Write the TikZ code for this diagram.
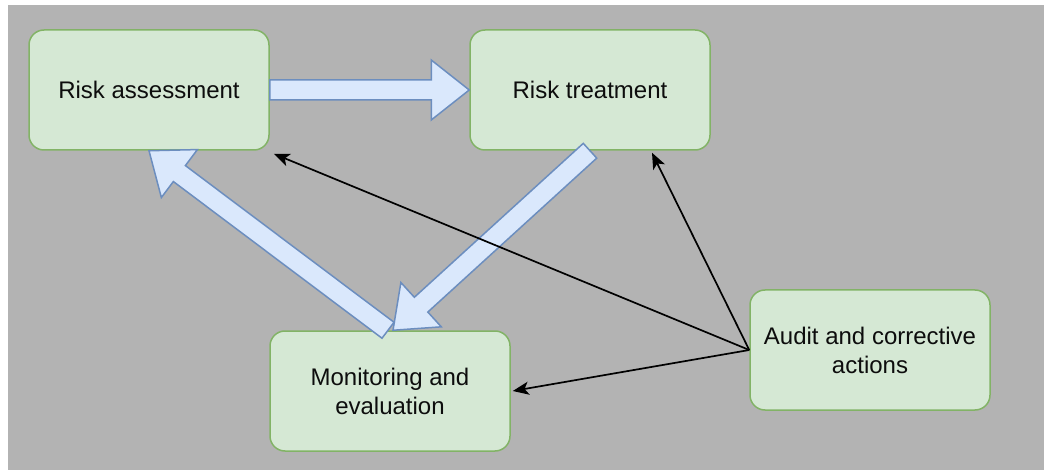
\documentclass[tikz,border=0pt]{standalone}
\usepackage{fontspec}
\setmainfont{Liberation Sans}
\usetikzlibrary{calc,arrows.meta}

\definecolor{bggray}{HTML}{B3B3B3}
\definecolor{boxfill}{HTML}{D5E8D4}
\definecolor{boxline}{HTML}{82B366}
\definecolor{arrfill}{HTML}{DAE8FC}
\definecolor{arrline}{HTML}{6C8EBF}

\tikzstyle{box}=[rectangle, rounded corners=15pt, draw=boxline, fill=boxfill, line width=1.5pt, minimum width=240pt, minimum height=120pt, align=center, text=black!95, font=\fontsize{24}{29}\selectfont]
\tikzstyle{fatarrow}=[draw=arrline, fill=arrfill, line width=1.5pt, line join=miter]
\tikzstyle{myarrow}=[-{Stealth[length=16pt,width=13pt,inset=4pt]}, line width=1.7pt]

% wide hollow arrow from #1 to #2
\newcommand{\blockarrow}[2]{%
  \draw[fatarrow] let \p1=(#1), \p2=(#2), \n1={atan2(\y2-\y1,\x2-\x1)} in
    ($(\p1)+({\n1+90}:10pt)$)
    -- ($(\p2)+({\n1+180}:38pt)+({\n1+90}:10pt)$)
    -- ($(\p2)+({\n1+180}:38pt)+({\n1+90}:30pt)$)
    -- (\p2)
    -- ($(\p2)+({\n1+180}:38pt)+({\n1-90}:30pt)$)
    -- ($(\p2)+({\n1+180}:38pt)+({\n1-90}:10pt)$)
    -- ($(\p1)+({\n1-90}:10pt)$) -- cycle;}

\begin{document}
\begin{tikzpicture}[x=1pt, y=-1pt]

    \useasboundingbox (0, 0) rectangle (1044, 470);
    \fill[bggray] (8, 5) rectangle (1044, 470);

    \node (assess) at (149, 90) [box] {Risk assessment};
    \node (treat) at (590, 90) [box] {Risk treatment};
    \node (monitor) at (390, 391) [box] {Monitoring and\\evaluation};
    \node (audit) at (870, 350) [box] {Audit and corrective\\actions};

    % main cycle
    \blockarrow{assess.east}{treat.west}
    \blockarrow{treat.south}{[xshift=3pt]monitor.north}
    \blockarrow{[xshift=-2pt]monitor.north}{assess.south}

    % audit feeds back
    \draw[myarrow] (audit.west) -- ([shift={(4pt,-3pt)}]assess.south east);
    \draw[myarrow] (audit.west) -- ([shift={(62pt,-2pt)}]treat.south);
    \draw[myarrow] (audit.west) -- ([xshift=2pt]monitor.east);

\end{tikzpicture}
\end{document}
